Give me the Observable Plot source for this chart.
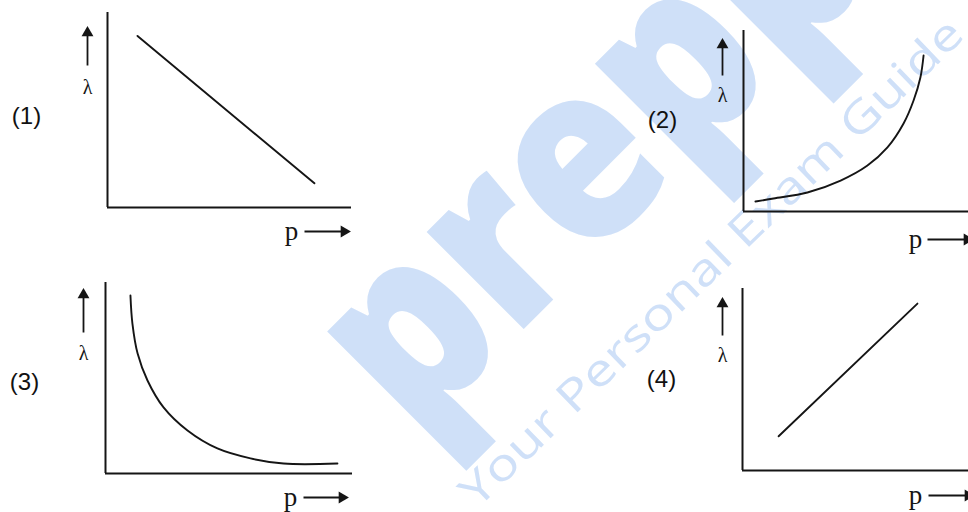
<!DOCTYPE html>
<html><head><meta charset="utf-8">
<script src="https://cdn.jsdelivr.net/npm/d3@7"></script>
<script src="https://cdn.jsdelivr.net/npm/@observablehq/plot@0.6"></script>
<style>
html,body{margin:0;padding:0;background:#fff;}
#root{position:relative;width:968px;height:512px;overflow:hidden;background:#fff;}
#root > svg{position:absolute;}
</style></head><body><div id="root"></div>
<script>
// ---- text ----
const panelLabels = ["(1)", "(2)", "(3)", "(4)"];
const yLabel = "λ";
const xLabel = "p";
const watermarkWord = "prepp";
const watermarkTagline = "Your Personal Exam Guide";

// ---- curves (arbitrary units, 0–10 on both axes) ----
const curve1X = [1.23, 8.48];
const curve1Y = [8.8, 1.24];
const curve2X = [0.49, 1.23, 2.62, 3.98, 5.08, 5.90, 6.56, 6.97, 7.25, 7.38];
const curve2Y = [0.55, 0.72, 1.05, 1.71, 2.54, 3.54, 4.86, 6.13, 7.40, 8.62];
const curve3X = [1.01, 1.09, 1.30, 1.70, 2.35, 3.32, 4.53, 5.87, 7.21, 9.39];
const curve3Y = [9.32, 7.85, 6.28, 4.87, 3.46, 2.25, 1.31, 0.79, 0.52, 0.52];
const curve4X = [1.48, 7.17];
const curve4Y = [1.88, 9.17];

const root = document.getElementById("root");
const ink = "#151515";
const wmColor = "#cfe0f8";

// ---- watermark (behind the panels) ----
const wm = d3.create("svg").attr("width", 968).attr("height", 512)
  .style("left", "0px").style("top", "0px");
wm.append("text")
  .attr("transform", "translate(600,158) rotate(-45)")
  .attr("text-anchor", "middle").attr("dy", "0.27em")
  .attr("font-family", "'Open Sans', sans-serif").attr("font-weight", 800)
  .attr("font-size", 248).attr("fill", wmColor)
  .attr("textLength", 660).attr("lengthAdjust", "spacingAndGlyphs")
  .text(watermarkWord);
wm.append("text")
  .attr("transform", "translate(711,262) rotate(-44)")
  .attr("text-anchor", "middle").attr("dy", "0.35em")
  .attr("font-family", "'Open Sans', sans-serif").attr("font-weight", 500)
  .attr("font-size", 44).attr("fill", wmColor)
  .attr("textLength", 680).attr("lengthAdjust", "spacingAndGlyphs")
  .text(watermarkTagline);
root.appendChild(wm.node());

// ---- panel layout (pixels) ----
const layouts = [
  {ox:107, oy:207, w:244, h:195, pX:184, pY:24, aS:197, aT:243, lamX:-20, lamY:120, upB:142, upT:181},
  {ox:743, oy:211, w:244, h:181, pX:172, pY:28, aS:184, aT:230, lamX:-21, lamY:116, upB:136, upT:173},
  {ox:105, oy:473, w:247, h:191, pX:185, pY:24, aS:198, aT:243, lamX:-22, lamY:120, upB:141, upT:185},
  {ox:742, oy:470, w:244, h:182, pX:173, pY:25, aS:186, aT:232, lamX:-20, lamY:115, upB:135, upT:173}
];
const curves = [[curve1X, curve1Y], [curve2X, curve2Y], [curve3X, curve3Y], [curve4X, curve4Y]];

const mL = 105, mT = 10, mR = 10, mB = 45;
layouts.forEach((L, i) => {
  const ux = px => px / L.w * 10, uy = px => px / L.h * 10;
  const [xs, ys] = curves[i];
  const data = xs.map((x, k) => ({x, y: ys[k]}));
  const headR = 4.4;
  const headOff = 6.4; // tip-to-centre distance of the triangle
  const chart = Plot.plot({
    width: mL + L.w + mR, height: mT + L.h + mB,
    marginLeft: mL, marginTop: mT, marginRight: mR, marginBottom: mB,
    x: {domain: [0, 10], axis: null},
    y: {domain: [0, 10], axis: null},
    style: {background: "transparent", overflow: "visible"},
    marks: [
      Plot.ruleX([0], {stroke: ink, strokeWidth: 2}),
      Plot.ruleY([0], {stroke: ink, strokeWidth: 2}),
      Plot.line(data, {x: "x", y: "y", curve: "catmull-rom", stroke: ink, strokeWidth: 1.9}),
      Plot.text([panelLabels[i]], {frameAnchor: "bottom-left", textAnchor: "middle", lineAnchor: "middle",
        dx: -81, dy: -91, fontSize: 24,
        fontFamily: "'Liberation Sans', Arial, sans-serif", fill: "#111"}),
      Plot.text([yLabel], {x: ux(L.lamX), y: uy(L.lamY), fontSize: 20,
        fontFamily: "'Liberation Serif', 'Times New Roman', serif", fill: ink}),
      Plot.link([{x1: ux(L.lamX), y1: uy(L.upB), x2: ux(L.lamX), y2: uy(L.upT - headOff)}],
        {x1: "x1", y1: "y1", x2: "x2", y2: "y2", stroke: ink, strokeWidth: 1.8}),
      Plot.dot([{x: ux(L.lamX), y: uy(L.upT - headOff)}],
        {x: "x", y: "y", symbol: "triangle", r: headR, fill: ink, stroke: "none"}),
      Plot.text([xLabel], {x: ux(L.pX), y: uy(-L.pY), fontSize: 27,
        fontFamily: "'Liberation Serif', 'Times New Roman', serif", fill: ink}),
      Plot.link([{x1: ux(L.aS), y1: uy(-L.pY), x2: ux(L.aT - headOff), y2: uy(-L.pY)}],
        {x1: "x1", y1: "y1", x2: "x2", y2: "y2", stroke: ink, strokeWidth: 1.8}),
      Plot.dot([{x: ux(L.aT - headOff), y: uy(-L.pY)}],
        {x: "x", y: "y", symbol: "triangle", r: headR, rotate: 90, fill: ink, stroke: "none"})
    ]
  });
  chart.style.left = (L.ox - mL) + "px";
  chart.style.top = (L.oy - L.h - mT) + "px";
  root.appendChild(chart);
});
</script>
</body></html>
